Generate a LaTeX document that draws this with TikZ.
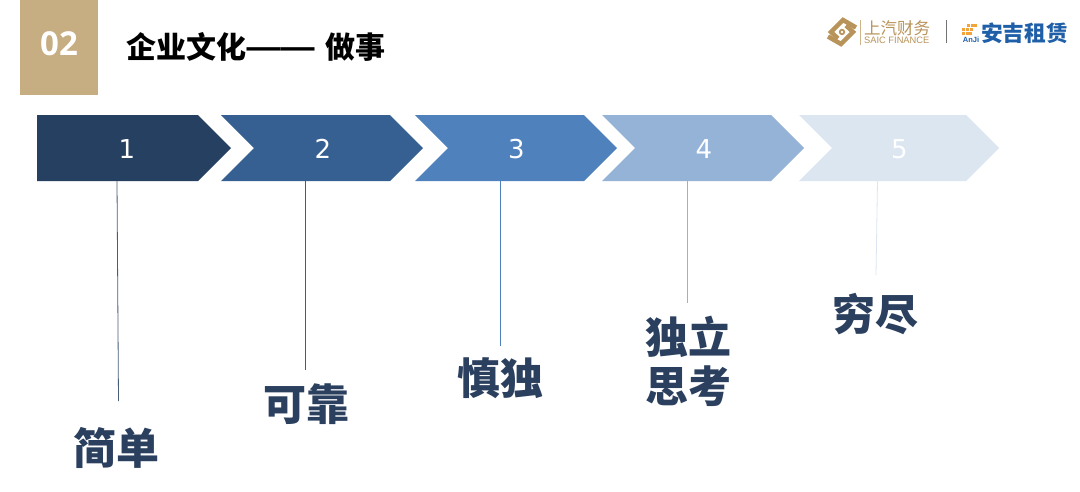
\documentclass[tikz,border=0pt]{standalone}
\usepackage{fontspec}
\setmainfont{Liberation Sans}
\newfontfamily\cjk{Noto Sans CJK SC}
\newfontfamily\numf{DejaVu Sans}
\newfontfamily\opf{Open Sans}
\definecolor{gold}{HTML}{C7AD82}
\definecolor{cA}{HTML}{264061}
\definecolor{cB}{HTML}{366092}
\definecolor{cC}{HTML}{4F81BD}
\definecolor{cD}{HTML}{95B3D7}
\definecolor{cE}{HTML}{DCE6F1}
\definecolor{ink}{HTML}{2B3F5F}
\definecolor{logogold}{HTML}{B8935A}
\definecolor{logoblue}{HTML}{1F5FA8}
\definecolor{logoorange}{HTML}{F2A33A}
\tikzset{
  num/.style={font=\numf\fontsize{26}{26}\selectfont,text=white,inner sep=0pt},
  lab/.style={font=\cjk\bfseries\fontsize{43}{49}\selectfont,text=ink,inner sep=0pt,align=center},
  lead/.style={line width=0.8pt},
  sband/.style={draw=logogold,line width=4.5pt,line join=miter},
}
\begin{document}
\begin{tikzpicture}[x=1pt,y=-1pt]
\useasboundingbox (0,0) rectangle (1080,491);
\fill[white] (0,0) rectangle (1080,491);
% badge and title
\fill[gold] (20,0) rectangle (98,95);
\node[font=\opf\bfseries\fontsize{33}{33}\selectfont,text=white,inner sep=0pt] (badge) at (59,44) {02};
\node[font=\cjk\bfseries\fontsize{30}{30}\selectfont,text=black,inner sep=0pt,anchor=west] (title) at (126.5,47) {企业文化{\rmfamily\fontsize{34}{34}\selectfont ——}\hspace{4pt} 做事};
% chevrons
\fill[cA] (37,115) -- (198,115) -- (231,148) -- (198,181) -- (37,181) -- cycle;
\fill[cB] (221,115) -- (390,115) -- (423,148) -- (390,181) -- (221,181) -- (254,148) -- cycle;
\fill[cC] (415,115) -- (584,115) -- (617,148) -- (584,181) -- (415,181) -- (448,148) -- cycle;
\fill[cD] (602,115) -- (771,115) -- (804,148) -- (771,181) -- (602,181) -- (635,148) -- cycle;
\fill[cE] (799,115) -- (966,115) -- (999,148) -- (966,181) -- (799,181) -- (832,148) -- cycle;
\node[num] (n1) at (127,149) {1};
\node[num] (n2) at (323,149) {2};
\node[num] (n3) at (516.5,149) {3};
\node[num] (n4) at (704,149) {4};
\node[num] (n5) at (899.5,149) {5};
% labels
\node[lab] (l1) at (116,447.5) {简单};
\node[lab] (l2) at (306,404.5) {可靠};
\node[lab] (l3) at (500,378.5) {慎独};
\node[lab] (l4) at (688,361.5) {独立\\思考};
\node[lab] (l5) at (875,314.5) {穷尽};
% leaders
\coordinate (a1) at (117,181); \coordinate (b1) at (118.5,401);
\coordinate (a2) at (305.5,181); \coordinate (b2) at (305.5,370);
\coordinate (a3) at (500,181); \coordinate (b3) at (500,346);
\coordinate (a4) at (687,181); \coordinate (b4) at (687,303);
\coordinate (a5) at (877.5,181); \coordinate (b5) at (876,275);
\draw[lead,cA!85!white] (a1) -- (b1);
\draw[lead,cB] (a2) -- (b2);
\draw[lead,cC] (a3) -- (b3);
\draw[lead,cD] (a4) -- (b4);
\draw[lead,cE] (a5) -- (b5);
% logo SAIC
\draw[sband] (856,27.5) -- (843,20) -- (831,32) -- (838,38.5);
\draw[sband] (828,36.5) -- (841,44) -- (853,32) -- (846,25.5);
\fill[logogold] (842,32) circle (3.2);
\fill[white] (842,32) circle (1.3);
\draw[logogold!70!white,line width=0.6pt] (860,20) -- (860,45);
\node[font=\cjk\fontsize{16.5}{16.5}\selectfont,text=logogold,inner sep=0pt,anchor=west] (saic) at (864,28) {上汽财务};
\node[font=\fontsize{9.3}{9.3}\selectfont,text=logogold,inner sep=0pt,anchor=west] (saicen) at (864,40) {SAIC FINANCE};
\draw[black!55,line width=0.8pt] (946,20) -- (946,43);
% logo Anji
\foreach \i/\j in {1/0,2/0,3/0,0/1,1/1,2/1,0/2,1/2,2/2}
  \fill[logoorange] (963+\i*3.8-\j*0.6,23.5+\j*4) rectangle +(3,3);
\node[font=\bfseries\fontsize{7.5}{7.5}\selectfont,text=logoblue,inner sep=0pt] (anji) at (971,39.5) {AnJi};
\node[font=\cjk\bfseries\fontsize{21.7}{21.7}\selectfont,text=logoblue,inner sep=0pt,anchor=west] (anjic) at (981,33) {安吉租赁};
\end{tikzpicture}
\end{document}
